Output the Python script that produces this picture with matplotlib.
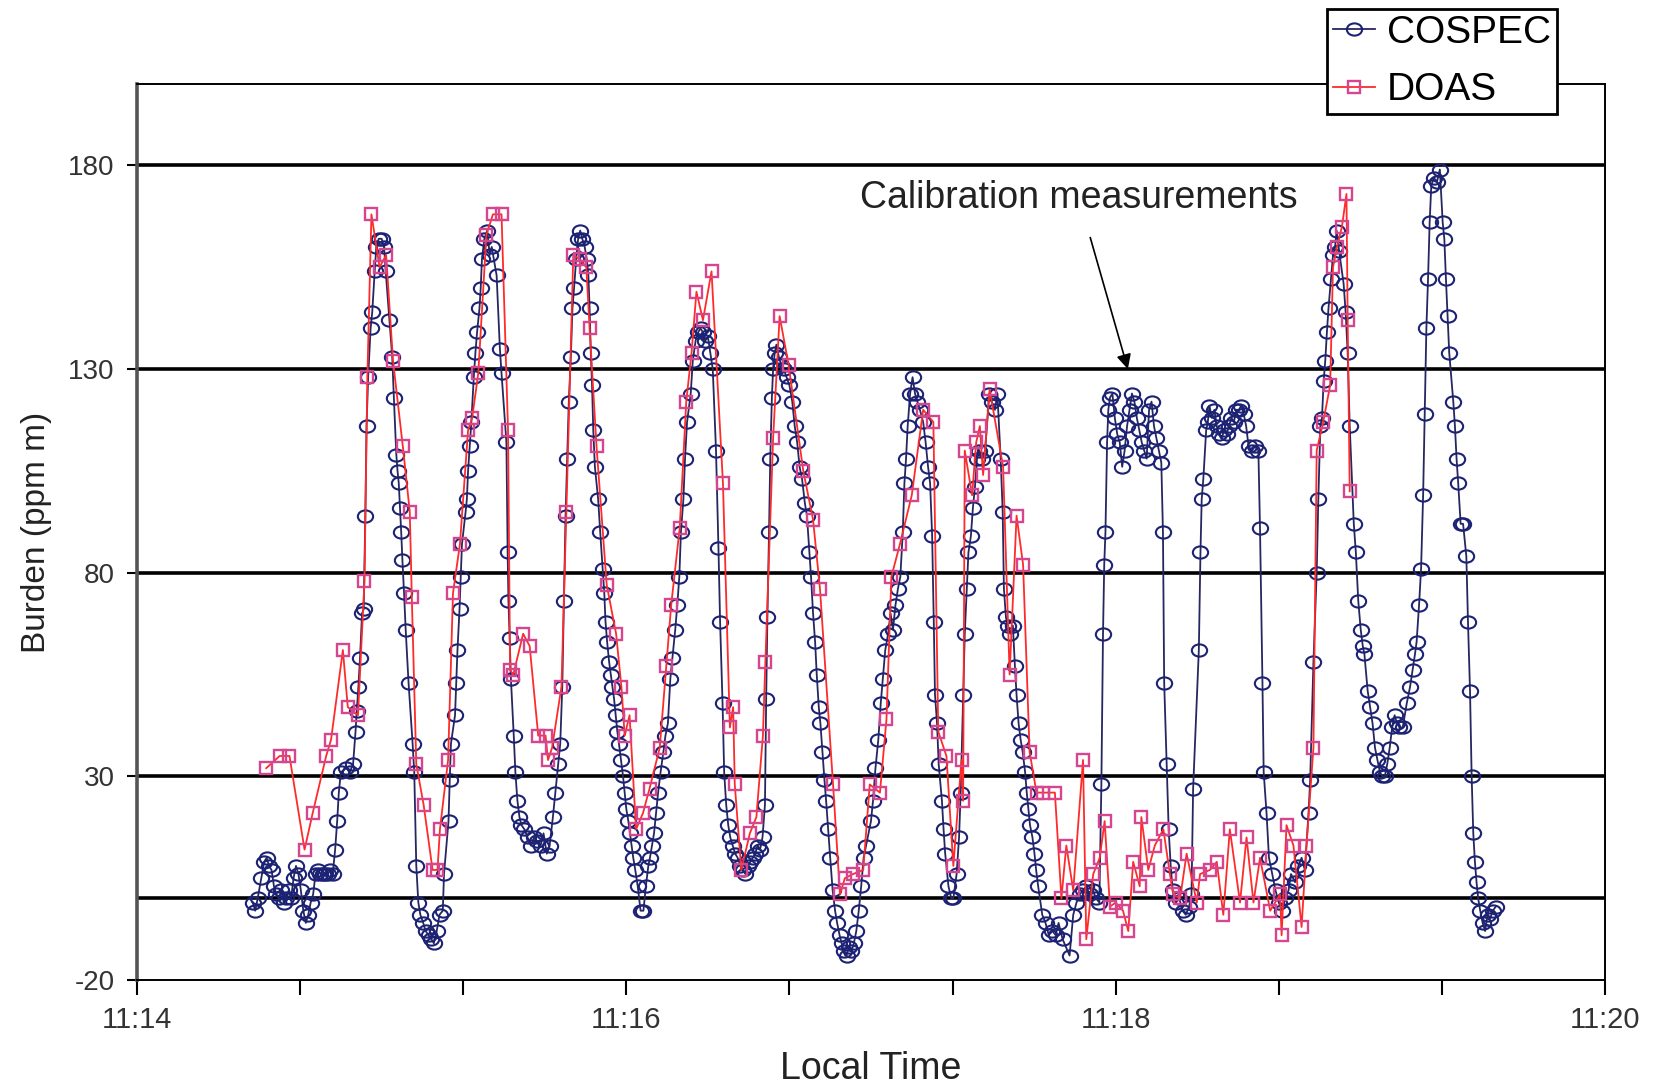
import numpy as np
import matplotlib.pyplot as plt
from matplotlib.path import Path
from matplotlib.transforms import Affine2D

# seconds after 11:14 local time, burden in ppm m
COSPEC_T = [
    28.4, 29.0, 29.6, 30.5, 31.2, 31.8, 32.4, 33.0, 33.6, 34.2, 34.8, 35.4, 36.0, 36.6, 37.2, 37.8,
    38.4, 39.0, 39.6, 40.2, 40.8, 41.4, 42.0, 42.6, 43.2, 43.8, 44.4, 45.0, 45.6, 46.2, 46.8, 47.4,
    48.0, 48.6, 49.1, 49.5, 50.0, 51.3, 52.2, 53.0, 53.6, 53.9, 54.3, 54.7, 55.2, 55.6, 56.0, 56.3,
    56.7, 57.3, 57.7, 58.3, 58.7, 59.3, 60.0, 60.6, 61.0, 61.9, 62.6, 63.0, 63.6, 63.9, 64.2, 64.5,
    64.8, 65.1, 65.5, 65.9, 66.6, 67.6, 68.0, 68.5, 69.0, 69.5, 70.2, 70.8, 71.5, 72.2, 72.8, 73.5,
    74.2, 75.0, 75.3, 76.4, 76.7, 77.0, 78.0, 78.3, 78.6, 79.1, 79.4, 79.7, 80.6, 80.9, 81.2, 81.6,
    82.0, 82.6, 83.0, 83.4, 84.0, 84.3, 84.6, 85.2, 85.9, 86.5, 87.0, 88.2, 89.0, 89.4, 90.6, 90.9,
    91.1, 91.4, 91.7, 92.4, 92.8, 93.3, 93.8, 94.3, 95.0, 95.8, 96.6, 97.4, 98.2, 99.0, 99.7, 100.5,
    101.2, 102.0, 102.6, 103.3, 103.8, 104.3, 104.7, 105.1, 105.5, 105.9, 106.4, 106.8, 107.2, 107.7,
    108.2, 108.7, 109.2, 109.8, 110.3, 110.7, 111.0, 111.3, 111.6, 111.9, 112.3, 113.1, 113.6, 114.2,
    114.6, 114.9, 115.3, 115.8, 116.2, 116.6, 117.0, 117.4, 117.8, 118.2, 118.7, 119.2, 119.6, 120.0,
    120.5, 120.9, 121.3, 121.7, 122.2, 122.8, 123.5, 124.2, 124.8, 125.4, 125.8, 126.3, 126.8, 127.3,
    127.8, 128.4, 129.1, 129.6, 130.2, 130.8, 131.3, 132.0, 132.5, 133.0, 133.4, 134.0, 134.4, 134.9,
    135.8, 136.3, 137.0, 137.6, 138.2, 138.8, 139.4, 140.0, 140.6, 141.2, 142.0, 142.6, 143.0, 143.6,
    144.0, 144.5, 145.0, 145.5, 146.1, 146.7, 147.3, 148.0, 148.6, 149.2, 149.8, 150.4, 151.0, 151.6,
    152.2, 152.8, 153.4, 154.0, 154.3, 154.6, 155.0, 155.3, 155.7, 156.0, 156.4, 156.8, 157.4, 158.0,
    158.6, 159.3, 160.0, 160.7, 161.3, 161.9, 162.5, 163.1, 163.8, 164.3, 164.9, 165.3, 165.8, 166.3,
    166.7, 167.2, 167.6, 168.1, 168.6, 169.0, 169.5, 170.0, 170.6, 171.2, 171.7, 172.3, 172.8, 173.4,
    174.0, 174.6, 175.2, 175.8, 176.4, 177.0, 177.6, 178.2, 178.8, 180.0, 180.5, 181.1, 181.8, 182.4,
    182.9, 183.5, 184.2, 184.8, 185.4, 186.0, 186.6, 187.2, 187.8, 188.2, 188.6, 189.0, 189.6, 190.2,
    190.8, 191.4, 192.0, 192.8, 193.4, 194.0, 194.5, 195.0, 195.4, 195.7, 196.2, 196.6, 197.4, 197.8,
    198.2, 199.0, 199.7, 200.2, 201.0, 201.6, 202.0, 202.6, 203.0, 203.5, 203.9, 204.5, 205.0, 205.5,
    206.0, 206.6, 207.2, 208.0, 209.0, 209.6, 210.4, 211.0, 211.8, 212.3, 212.6, 213.1, 213.6, 214.2,
    214.8, 215.3, 215.7, 216.2, 216.7, 217.2, 217.8, 218.2, 218.6, 219.0, 219.6, 220.1, 220.5, 221.0,
    222.0, 222.8, 223.6, 224.5, 225.3, 226.0, 227.0, 228.7, 229.6, 230.4, 231.2, 232.0, 232.8, 233.6,
    234.4, 235.2, 236.0, 236.5, 236.9, 237.2, 237.5, 237.9, 238.2, 238.6, 239.2, 239.8, 240.4, 241.0,
    241.6, 242.2, 242.8, 243.4, 244.0, 244.6, 245.2, 245.8, 246.4, 247.0, 247.6, 248.2, 248.8, 249.4,
    250.0, 250.6, 251.2, 251.6, 251.9, 252.5, 253.0, 253.5, 254.0, 254.8, 255.6, 256.4, 257.2, 258.0,
    258.6, 259.0, 260.4, 260.8, 261.1, 261.5, 262.2, 262.6, 263.0, 263.6, 264.2, 264.8, 265.4, 266.0,
    266.6, 267.2, 267.8, 268.4, 269.0, 269.6, 270.2, 270.8, 271.4, 272.0, 272.6, 273.4, 274.2, 275.0,
    275.4, 276.0, 276.3, 277.0, 277.6, 278.4, 279.2, 280.0, 280.8, 281.6, 282.4, 283.0, 284.0, 284.8,
    285.6, 286.4, 287.3, 287.7, 288.5, 289.3, 289.7, 290.2, 290.6, 291.0, 291.4, 291.8, 292.2, 292.8,
    293.3, 293.8, 294.2, 294.8, 295.9, 296.4, 296.9, 297.4, 298.4, 298.9, 299.5, 300.1, 300.6, 301.0,
    301.8, 302.4, 303.0, 303.6, 304.2, 304.8, 305.4, 306.0, 306.6, 307.2, 307.8, 308.4, 309.0, 309.6,
    310.4, 311.4, 312.2, 312.8, 313.4, 313.8, 314.4, 314.9, 315.4, 315.8, 316.2, 316.6, 317.0, 317.4,
    318.0, 318.8, 319.5, 320.2, 320.6, 321.0, 321.4, 321.8, 322.8, 323.2, 323.6, 324.0, 324.6, 325.2,
    326.0, 326.4, 326.9, 327.3, 327.7, 328.1, 328.5, 328.9, 329.4, 330.0, 330.6, 331.2, 331.8, 332.5,
    333.2,
]
COSPEC_V = [
    -1, -3, 0, 5, 9, 10, 8, 7, 3, 1, 0, 2, -1, 0, 2, 0,
    5, 8, 6, 2, -3, -6, -4, -1, 1, 6, 7, 6, 6, 6, 6, 7,
    6, 12, 19, 26, 31, 32, 31, 33, 41, 46, 52, 59, 70, 71, 94, 116,
    128, 140, 144, 154, 160, 162, 162, 160, 154, 142, 133, 123, 109, 105, 102, 96,
    90, 83, 75, 66, 53, 38, 31, 8, -1, -4, -6, -8, -9, -10, -11, -8,
    -4, -3, 6, 19, 29, 38, 45, 53, 61, 71, 79, 87, 95, 98, 105, 111,
    117, 128, 134, 139, 145, 150, 157, 162, 164, 158, 160, 153, 135, 129, 112, 85,
    73, 64, 54, 40, 31, 24, 20, 18, 17, 15, 13, 15, 14, 13, 16, 11,
    13, 20, 26, 33, 38, 52, 73, 94, 108, 122, 133, 145, 150, 157,
    162, 164, 162, 160, 157, 153, 145, 134, 126, 115, 106, 98, 90, 81,
    75, 68, 63, 58, 55, 52, 49, 45, 41, 38, 34, 30, 26, 22,
    19, 16, 13, 10, 7, 3, -3, -3, 3, 8, 10, 13, 16, 21,
    26, 31, 36, 40, 43, 54, 59, 66, 72, 79, 90, 98, 108, 117,
    124, 132, 137, 139, 140, 139, 137, 138, 134, 130, 110, 86, 68, 48,
    31, 23, 18, 15, 13, 11, 10, 8, 7, 6, 8, 9, 10, 11,
    13, 12, 15, 23, 49, 69, 90, 108, 123, 130, 134, 136, 133, 131,
    130, 128, 126, 122, 116, 112, 106, 103, 97, 94, 85, 79, 70, 63,
    55, 47, 43, 36, 29, 24, 17, 10, 2, -3, -6, -9, -11, -13,
    -14, -12, -13, -11, -8, -3, 3, 10, 13, 19, 24, 32, 39, 48,
    54, 61, 65, 70, 66, 72, 76, 79, 90, 102, 108, 116, 124, 128,
    124, 122, 120, 117, 112, 106, 102, 89, 68, 50, 43, 33, 24, 17,
    11, 3, 0, 0, 6, 15, 26, 50, 65, 76, 85, 89, 96, 101,
    108, 110, 108, 110, 124, 122, 120, 124, 108, 95, 76, 69, 67, 65,
    67, 57, 50, 43, 39, 36, 31, 26, 22, 18, 15, 11, 7, 3,
    -4, -6, -9, -8, -9, -6, -10, -14, -4, -1, 1, 2, 3, 1,
    2, 0, -1, 28, 65, 82, 90, 112, 120, 123, 124, 118, 114, 112,
    106, 110, 116, 120, 124, 122, 118, 115, 112, 110, 108, 120, 122, 116,
    113, 110, 107, 90, 53, 33, 17, 8, 2, -1, 0, -3, -4, -2,
    1, 27, 61, 85, 98, 103, 115, 117, 121, 118, 120, 116, 114, 113,
    115, 114, 116, 118, 117, 120, 120, 121, 119, 116, 111, 110, 111, 110,
    91, 53, 31, 21, 10, 6, 2, -1, -3, 0, 2, 6, 4, 8,
    10, 7, 21, 29, 58, 80, 98, 116, 118, 127, 132, 139, 145, 152,
    158, 160, 164, 159, 151, 144, 134, 116, 92, 85, 73, 66, 62, 60,
    51, 47, 43, 37, 34, 31, 30, 30, 33, 37, 42, 45, 43, 42,
    42, 48, 52, 56, 60, 63, 72, 81, 99, 119, 140, 152, 166, 175,
    177, 176, 179, 166, 162, 152, 143, 134, 122, 116, 108, 102, 92, 92,
    84, 68, 51, 30, 16, 9, 4, 0, -3, -6, -8, -4, -5, -3,
    -2,
]

DOAS_T = [
    31.7, 35.0, 37.4, 41.1, 43.1, 46.4, 47.6, 50.5, 51.7, 54.2, 55.8, 56.5, 57.5, 59.5, 61.1, 62.8,
    65.2, 66.9, 67.4, 68.5, 70.3, 72.5, 73.7, 74.3, 76.3, 77.5, 79.2, 81.2, 82.2, 83.7, 85.7, 87.3,
    89.4, 91.0, 91.5, 92.3, 94.7, 96.3, 98.4, 100.2, 100.8, 101.8, 104.1, 105.3, 107.0, 108.6, 110.2,
    111.0, 112.7, 115.2, 117.5, 118.8, 119.6, 120.8, 122.4, 124.1, 125.7, 128.2, 129.8, 131.0, 133.1,
    134.7, 136.0, 137.2, 138.8, 140.9, 143.7, 145.4, 146.2, 146.6, 148.2, 150.3, 151.9, 153.5, 154.1,
    156.0, 157.6, 159.8, 163.4, 165.8, 167.5, 170.7, 172.4, 173.6, 175.6, 178.1, 179.7, 182.2, 183.8,
    185.0, 187.1, 190.0, 192.8, 195.3, 196.5, 198.5, 200.2, 202.2, 202.6, 203.0, 204.8, 205.8, 206.7,
    207.5, 209.1, 212.4, 214.0, 215.7, 217.3, 218.9, 220.6, 222.2, 225.1, 226.7, 227.9, 229.6, 232.0,
    232.8, 234.5, 236.1, 237.3, 238.6, 240.0, 241.8, 243.1, 244.3, 245.9, 246.3, 248.0, 249.6, 251.7,
    253.3, 254.1, 255.8, 257.4, 259.9, 260.7, 263.1, 264.8, 266.4, 268.0, 270.5, 272.1, 273.8, 275.4,
    277.9, 280.3, 280.7, 281.9, 283.6, 285.6, 286.8, 288.5, 289.3, 290.9, 292.6, 293.3, 294.3, 295.5,
    296.6, 296.9, 297.4,
]
DOAS_V = [
    32, 35, 35, 12, 21, 35, 39, 61, 47, 45, 78, 128, 168, 155, 158, 132,
    111, 95, 74, 33, 23, 7, 7, 17, 34, 75, 87, 115, 118, 129, 163, 168,
    168, 115, 56, 55, 65, 62, 40, 40, 34, 37, 52, 95, 158, 157, 155,
    140, 111, 77, 65, 52, 40, 45, 17, 21, 27, 37, 57, 72, 91,
    122, 134, 149, 142, 154, 102, 42, 47, 28, 7, 16, 20, 40, 58,
    113, 143, 131, 105, 93, 76, 28, 1, 5, 6, 7, 28, 26, 44,
    79, 87, 99, 120, 117, 41, 35, 8, 34, 24, 110, 99, 112, 116,
    104, 125, 106, 55, 94, 82, 36, 26, 26, 26, 0, 13, 2, 34,
    -10, 6, 10, 19, -2, -1, -3, -8, 9, 3, 20, 7, 13, 17,
    6, 1, 0, 11, -1, 6, 7, 9, -4, 17, -1, 15, -1, 10,
    -3, 1, -9, 18, 13, -7, 13, 37, 110, 117, 126, 155, 160, 165,
    173, 142, 100,
]

Y_TICKS = [-20, 30, 80, 130, 180]
X_TICKS = [0, 40, 80, 120, 160, 200, 240, 280, 320, 360]
X_LABELS = {0: '11:14', 120: '11:16', 240: '11:18', 360: '11:20'}

plt.rcParams['font.family'] = ['Liberation Sans', 'DejaVu Sans']
plt.rcParams['axes.unicode_minus'] = False

# slightly flattened ring for the COSPEC samples
ring = Path.unit_circle().transformed(Affine2D().scale(1.25, 1.0))

fig = plt.figure(figsize=(16.56, 10.84), dpi=100)
ax = fig.add_axes([0.0827, 0.096, 0.8865, 0.8265])

# heavy horizontal rules at each labelled level and at zero
for level in Y_TICKS[1:] + [0]:
    ax.axhline(level, color='black', lw=2.6, zorder=1)

ax.plot(COSPEC_T, COSPEC_V, color='#262660', lw=1.3, marker=ring, ms=11,
        mfc='none', mec='#1c2274', mew=1.5, label='COSPEC', zorder=3)
ax.plot(DOAS_T, DOAS_V, color='#ff2a2a', lw=1.3, marker='s', ms=8.5,
        mfc='none', mec='#d6468f', mew=1.7, label='DOAS', zorder=4)

ax.set_xlim(0, 360)
ax.set_ylim(-20, 200)
ax.set_yticks(Y_TICKS)
ax.set_xticks(X_TICKS)
ax.set_xticklabels([X_LABELS.get(t, '') for t in X_TICKS])

ax.tick_params(axis='y', direction='out', length=7, width=1.5, labelsize=20,
               labelcolor='#333333', pad=9)
ax.tick_params(axis='x', direction='out', length=11, width=1.5, labelsize=21,
               labelcolor='#333333', pad=8)
for side in ['top', 'right', 'bottom']:
    ax.spines[side].set_linewidth(1.4)
ax.spines['left'].set_linewidth(2.6)
ax.spines['left'].set_color('#555555')

ax.set_ylabel('Burden (ppm m)', fontsize=24, color='#222222', labelpad=12)
ax.set_xlabel('Local Time', fontsize=27, color='#222222', labelpad=12)

ax.annotate('Calibration measurements', xy=(243, 130), xytext=(231, 172),
            fontsize=27, ha='center', va='center', color='#222222',
            arrowprops=dict(arrowstyle='-|>', color='black', lw=1.2,
                            mutation_scale=22, shrinkA=14, shrinkB=0))

leg = fig.legend(loc='upper right', bbox_to_anchor=(1557 / 1656, 1 - 9 / 1084),
                 fontsize=28, frameon=True, fancybox=False, framealpha=1,
                 edgecolor='black', handlelength=1.1, handletextpad=0.3,
                 borderpad=0.15, labelspacing=0.55, borderaxespad=0)
leg.get_frame().set_linewidth(2)

fig.savefig('out.png', dpi=100)
